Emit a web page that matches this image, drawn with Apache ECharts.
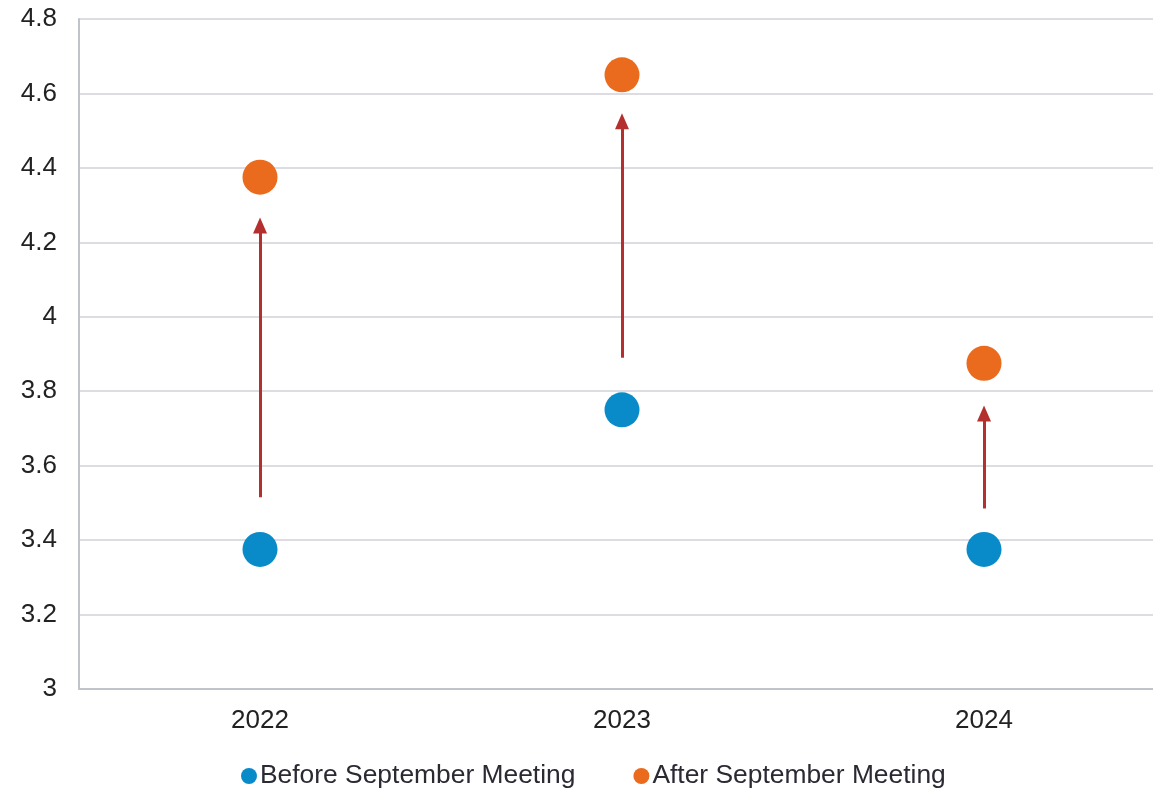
<!DOCTYPE html>
<html>
<head>
<meta charset="utf-8">
<script src="https://cdn.jsdelivr.net/npm/echarts@6/dist/echarts.min.js"></script>
<style>
  html,body{margin:0;padding:0;background:#fff;}
  #main{width:1153px;height:789px;}
</style>
</head>
<body>
<div id="main"></div>
<script>
// data
var years = ['2022', '2023', '2024'];
var beforeVals = [3.375, 3.75, 3.375];
var afterVals = [4.375, 4.65, 3.875];
var arrowFrom = [3.515, 3.89, 3.485];
var arrowTo = [4.245, 4.525, 3.74];

var chart = echarts.init(document.getElementById('main'));

// arrows between the two meetings
var arrows = [];
for (var i = 0; i < years.length; i++) {
  arrows.push([
    { coord: [years[i], arrowFrom[i]] },
    { coord: [years[i], arrowTo[i]] }
  ]);
}

var option = {
  animation: false,
  textStyle: { fontFamily: 'Liberation Sans, Arial, sans-serif' },
  // plot runs a little past the right edge of the picture
  grid: { left: 79, width: 1086, top: 19, bottom: 100, outerBoundsMode: 'none', containLabel: false },
  legend: {
    top: 758,
    left: 236,
    icon: 'circle',
    itemWidth: 16,
    itemHeight: 16,
    itemGap: 58,
    textStyle: { fontSize: 26.4, color: '#2a2a33', padding: [0, 0, 0, -2] },
    data: ['Before September Meeting', 'After September Meeting']
  },
  xAxis: {
    type: 'category',
    data: years,
    axisLine: { lineStyle: { color: '#c0c4ca', width: 2 } },
    axisTick: { show: false },
    axisLabel: { fontSize: 26, color: '#222', margin: 19 }
  },
  yAxis: {
    type: 'value',
    min: 3,
    max: 4.8,
    interval: 0.2,
    axisLine: { show: true, lineStyle: { color: '#c0c4ca', width: 2 } },
    axisTick: { show: false },
    axisLabel: { fontSize: 26, color: '#222', margin: 22 },
    splitLine: { lineStyle: { color: '#dcdce2', width: 2 } }
  },
  series: [
    {
      name: 'Before September Meeting',
      type: 'scatter',
      symbolSize: 35,
      itemStyle: { color: '#0a8bc9', opacity: 1 },
      data: beforeVals,
      markLine: {
        silent: true,
        symbol: ['none', 'triangle'],
        symbolSize: [14, 16],
        label: { show: false },
        lineStyle: { color: '#b3302e', width: 3, type: 'solid' },
        data: arrows
      }
    },
    {
      name: 'After September Meeting',
      type: 'scatter',
      symbolSize: 35,
      itemStyle: { color: '#ea6b1d', opacity: 1 },
      data: afterVals
    }
  ]
};
chart.setOption(option);
</script>
</body>
</html>
